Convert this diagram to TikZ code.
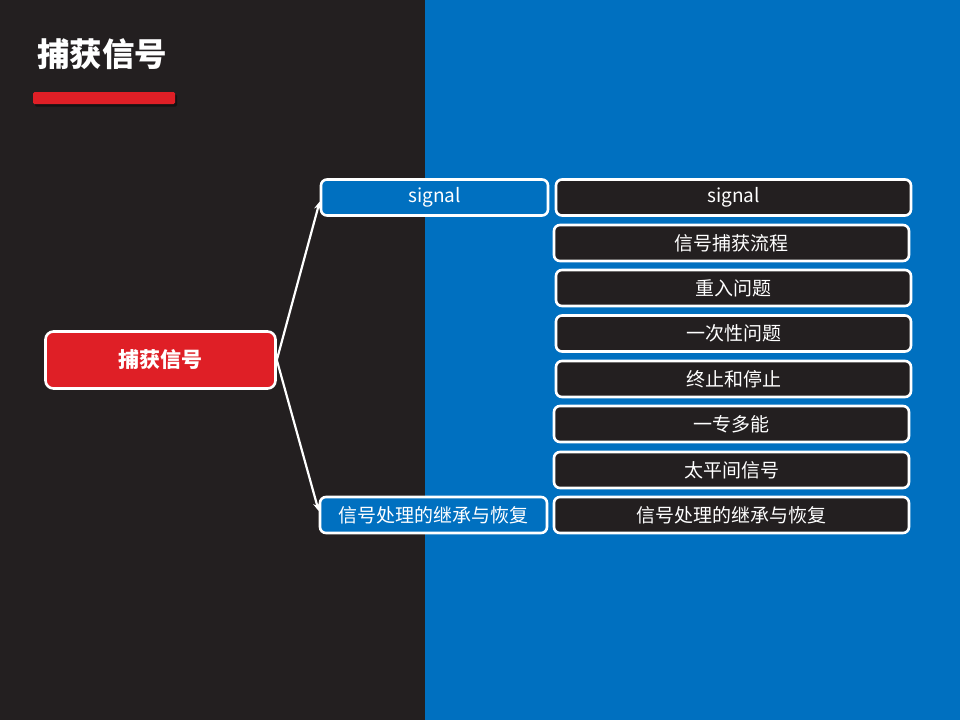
\documentclass[tikz,border=0pt]{standalone}
\usepackage{fontspec}
\setmainfont{Noto Sans CJK SC}
\usetikzlibrary{arrows.meta}
\definecolor{darkbg}{HTML}{231F20}
\definecolor{bluebg}{HTML}{0070C0}
\definecolor{redc}{HTML}{DF1F26}
\begin{document}
\begin{tikzpicture}[x=1pt,y=-1pt,
  basebox/.style={draw=white, line width=2.6pt, rounded corners=6pt, text=white, inner sep=0pt, font=\fontsize{19}{21}\selectfont},
  darkbox/.style={basebox, fill=darkbg, minimum width=355pt, minimum height=36pt},
  bluebox/.style={basebox, fill=bluebg, minimum width=227pt, minimum height=36pt},
  redbox/.style={basebox, fill=redc, rounded corners=8pt, minimum width=230pt, minimum height=57pt, font=\fontsize{21}{23}\selectfont\bfseries},
  conn/.style={draw=white, line width=2.2pt, -{Stealth[length=8pt,width=7pt]}}
]
\useasboundingbox (0,0) rectangle (960,720);
\fill[darkbg] (0,0) rectangle (425,720);
\fill[bluebg] (425,0) rectangle (960,720);
% title
\node[text=white, font=\fontsize{32.5}{35}\selectfont\bfseries, anchor=west, inner sep=0pt] (title) at (37,54) {捕获信号};
\fill[black, opacity=0.4, rounded corners=1.5pt] (35,94.5) rectangle (177,106.5);
\fill[redc, rounded corners=1.5pt] (33,92) rectangle (175,104);
% central
\node[redbox] (c) at (160.5,360) {捕获信号};
% level 1
\node[bluebox] (u) at (434.5,197.5) {signal};
\node[bluebox] (l) at (433.5,515) {信号处理的继承与恢复};
% level 2
\node[darkbox] (r1) at (733.5,197.5) {signal};
\node[darkbox] (r2) at (731.5,243) {信号捕获流程};
\node[darkbox] (r3) at (733.5,288) {重入问题};
\node[darkbox] (r4) at (733.5,333.5) {一次性问题};
\node[darkbox] (r5) at (733.5,379) {终止和停止};
\node[darkbox] (r6) at (731.5,424) {一专多能};
\node[darkbox] (r7) at (731.5,470) {太平间信号};
\node[darkbox] (r8) at (731.5,515) {信号处理的继承与恢复};
% connectors
\draw[conn] (c.east) -- ([yshift=-4pt]u.west);
\draw[conn] (c.east) -- ([yshift=4pt]l.west);
\end{tikzpicture}
\end{document}
